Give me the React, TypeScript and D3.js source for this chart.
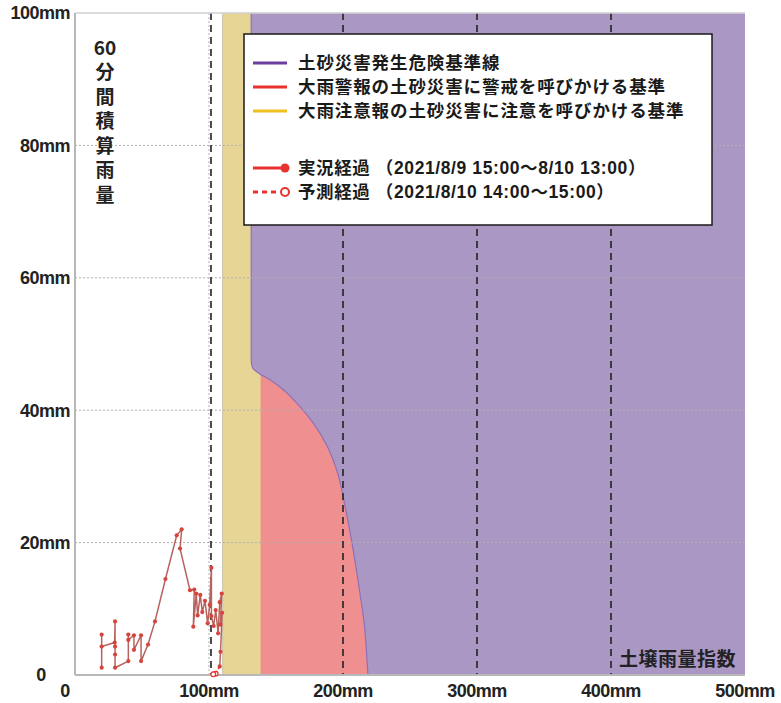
import React from "react";
import * as d3 from "d3";

// ---- data ----
const xTicks = [0, 100, 200, 300, 400, 500];
const yTicks = [0, 20, 40, 60, 80, 100];
const xTickLabels = ["0", "100mm", "200mm", "300mm", "400mm", "500mm"];
const yTickLabels = ["0", "20mm", "40mm", "60mm", "80mm", "100mm"];

// 大雨注意報 threshold (soil index, mm)
const cautionX = 110.2;
// 大雨警報 threshold (soil index) and its top (60min rain)
const warningX = 138.5;
const warningTop = 45.4;
// 土砂災害発生危険基準線 (CL) - ordered from bottom upward
const clSoil = [218.6, 217.9, 216.0, 212.5, 207.5, 201.5, 196, 188.6, 178, 168, 153, 143, 138.5, 135, 132.5, 131.5, 131.5];
const clRain = [0, 2.3, 7.5, 12.5, 19.0, 25.5, 30.5, 34.4, 38, 40.5, 43.5, 44.9, 45.4, 45.9, 46.4, 47.6, 100];

// 実況経過 (soil index, 60min rain)
const actSoil = [19.9, 19.9, 19.9, 29.6, 29.9, 29.9, 29.9, 29.9, 39.8, 39.8, 39.8, 44.0, 44.0, 49.3, 49.3, 54.5, 59.7, 67.5, 75.9, 79.6, 78.4, 85.8, 89.0, 88.3, 90.5, 91.5, 93.5, 95.0, 97.0, 99.0, 100.5, 101.8, 101.8, 103.5, 105.0, 106.8, 108.0, 109.5, 108.5, 109.8, 108.6, 108.0];
const actRain = [1.1, 6.1, 4.3, 4.9, 8.1, 4.3, 3.1, 1.1, 2.1, 6.1, 5.3, 6.0, 3.8, 6.0, 2.1, 4.6, 8.1, 14.5, 21.1, 22.0, 19.1, 12.8, 12.9, 7.3, 12.3, 9.0, 12.1, 9.5, 11.2, 7.8, 10.6, 16.2, 8.9, 7.4, 9.8, 6.3, 11.0, 12.3, 7.6, 9.4, 3.5, 1.3];
// 予測経過
const fcSoil = [108.0, 105.0, 103.2];
const fcRain = [1.3, 0.2, 0.1];

const legendItems = [
  { label: "土砂災害発生危険基準線", color: "#6b3fa0", kind: "line" },
  { label: "大雨警報の土砂災害に警戒を呼びかける基準", color: "#e8322e", kind: "line" },
  { label: "大雨注意報の土砂災害に注意を呼びかける基準", color: "#f0c020", kind: "line" },
  { label: "実況経過 （2021/8/9 15:00～8/10 13:00）", color: "#e8322e", kind: "actual" },
  { label: "予測経過 （2021/8/10 14:00～15:00）", color: "#e8322e", kind: "forecast" },
];
const yAxisTitle = ["60", "分", "間", "積", "算", "雨", "量"];
const xAxisTitle = "土壌雨量指数";

const W = 781;
const H = 703;
const x = d3.scaleLinear().domain([0, 500]).range([75, 745]);
const y = d3.scaleLinear().domain([0, 100]).range([675, 13]);

const FONT = "'Liberation Sans', 'Noto Sans CJK JP', sans-serif";
const JFONT = "'Noto Sans CJK JP', 'Liberation Sans', sans-serif";

export default function App() {
  const clPts: [number, number][] = clSoil.map((s, i) => [s, clRain[i]]);
  const clLine = d3
    .line<[number, number]>()
    .x((d) => x(d[0]))
    .y((d) => y(d[1]))
    .curve(d3.curveMonotoneY)(clPts) as string;
  const purplePath = clLine + `L${x(500)},${y(100)}L${x(500)},${y(0)}Z`;

  const actPts: [number, number][] = actSoil.map((s, i) => [s, actRain[i]]);
  const fcPts: [number, number][] = fcSoil.map((s, i) => [s, fcRain[i]]);
  const lineGen = d3
    .line<[number, number]>()
    .x((d) => x(d[0]))
    .y((d) => y(d[1]));

  const legendRowY = [63, 87, 111, 168, 192];

  return (
    <svg width={W} height={H} style={{ position: "absolute", left: 0, top: 0, background: "#fff" }}>
      {/* regions */}
      <rect x={x(cautionX)} y={y(100)} width={x(500) - x(cautionX)} height={y(0) - y(100)} fill="#e6d594" />
      <line x1={x(cautionX)} x2={x(cautionX)} y1={y(100)} y2={y(0)} stroke="#c9c2a8" strokeWidth={1} />
      <rect x={x(warningX)} y={y(warningTop)} width={x(500) - x(warningX)} height={y(0) - y(warningTop)} fill="#f08f8f" />
      <path d={purplePath} fill="#aa97c4" />
      <path d={clLine} fill="none" stroke="#8f70b8" strokeWidth={1.2} />

      {/* horizontal dotted grid */}
      {yTicks.filter((t) => t > 0 && t < 100).map((t) => (
        <line key={"hy" + t} x1={x(0)} x2={x(500)} y1={y(t)} y2={y(t)} stroke="#b0b0b0" strokeWidth={1} strokeDasharray="2,2" />
      ))}
      {/* vertical dotted at 100 */}
      <line x1={x(100)} x2={x(100)} y1={y(100)} y2={y(0)} stroke="#b0b0b0" strokeWidth={1} strokeDasharray="2,2" />
      {/* vertical dashed black */}
      {xTicks.filter((t) => t > 0 && t < 500).map((t) => (
        <line key={"vx" + t} x1={x(t) + (t === 100 ? 2 : 0)} x2={x(t) + (t === 100 ? 2 : 0)} y1={y(100)} y2={y(0)} stroke="#222" strokeWidth={1.6} strokeDasharray="7,5" />
      ))}

      {/* plot frame */}
      <line x1={x(0)} x2={x(500)} y1={y(100)} y2={y(100)} stroke="#d0d0d0" strokeWidth={1.5} />
      <line x1={x(0)} x2={x(0)} y1={y(100)} y2={y(0)} stroke="#b8b8b8" strokeWidth={2} />
      <line x1={x(0)} x2={x(500)} y1={y(0)} y2={y(0)} stroke="#b8b8b8" strokeWidth={2} />

      {/* trajectory */}
      <path d={lineGen(actPts) as string} fill="none" stroke="#b9625d" strokeWidth={1.5} strokeLinejoin="round" />
      {actPts.map((p, i) => (
        <circle key={"a" + i} cx={x(p[0])} cy={y(p[1])} r={2.1} fill="#d6453d" />
      ))}
      <path d={lineGen(fcPts) as string} fill="none" stroke="#e8322e" strokeWidth={1.6} strokeDasharray="3,2" />
      {fcPts.slice(1).map((p, i) => (
        <circle key={"f" + i} cx={x(p[0])} cy={y(p[1])} r={2.4} fill="#fff" stroke="#e8322e" strokeWidth={1.2} />
      ))}

      {/* y tick labels */}
      {yTicks.map((t, i) => (
        <text key={"yl" + t} x={t === 0 ? 41 : 70} y={y(t)} dy="0.36em" textAnchor={t === 0 ? "middle" : "end"} fontFamily={FONT} fontWeight="bold" fontSize={18} fill="#222" letterSpacing={-0.5}>
          {yTickLabels[i]}
        </text>
      ))}
      {/* x tick labels */}
      {xTicks.map((t, i) => (
        <text key={"xl" + t} x={t === 0 ? 65 : x(t)} y={691} dy="0.36em" textAnchor="middle" fontFamily={FONT} fontWeight="bold" fontSize={18} fill="#222" letterSpacing={-0.5}>
          {xTickLabels[i]}
        </text>
      ))}

      {/* y axis title, vertical */}
      {yAxisTitle.map((c, i) => (
        <text key={"yt" + i} x={105} y={48 + i * 24.5} dy="0.36em" textAnchor="middle" fontFamily={JFONT} fontWeight="bold" fontSize={19} fill="#222">
          {c}
        </text>
      ))}
      {/* x axis title */}
      <text x={736} y={659} dy="0.36em" textAnchor="end" fontFamily={JFONT} fontWeight="bold" fontSize={19} fill="#222" letterSpacing={0.5}>
        {xAxisTitle}
      </text>

      {/* legend */}
      <rect x={244} y={34} width={468} height={191} fill="#fff" stroke="#1a1a1a" strokeWidth={1.5} />
      {legendItems.map((it, i) => {
        const ly = legendRowY[i];
        return (
          <g key={"lg" + i}>
            {it.kind === "line" && <line x1={253} x2={287} y1={ly} y2={ly} stroke={it.color} strokeWidth={3} />}
            {it.kind === "actual" && (
              <g>
                <line x1={253} x2={284} y1={ly} y2={ly} stroke={it.color} strokeWidth={3} />
                <circle cx={285} cy={ly} r={4.5} fill={it.color} />
              </g>
            )}
            {it.kind === "forecast" && (
              <g>
                <line x1={253} x2={279} y1={ly} y2={ly} stroke={it.color} strokeWidth={3} strokeDasharray="5,4" />
                <circle cx={285} cy={ly} r={4} fill="#fff" stroke={it.color} strokeWidth={2} />
              </g>
            )}
            <text x={298} y={ly} dy="0.36em" fontFamily={FONT} fontWeight="bold" fontSize={17.5} fill="#1a1a1a" letterSpacing={i < 3 ? 0.9 : 0.6}>
              {it.label}
            </text>
          </g>
        );
      })}
    </svg>
  );
}
